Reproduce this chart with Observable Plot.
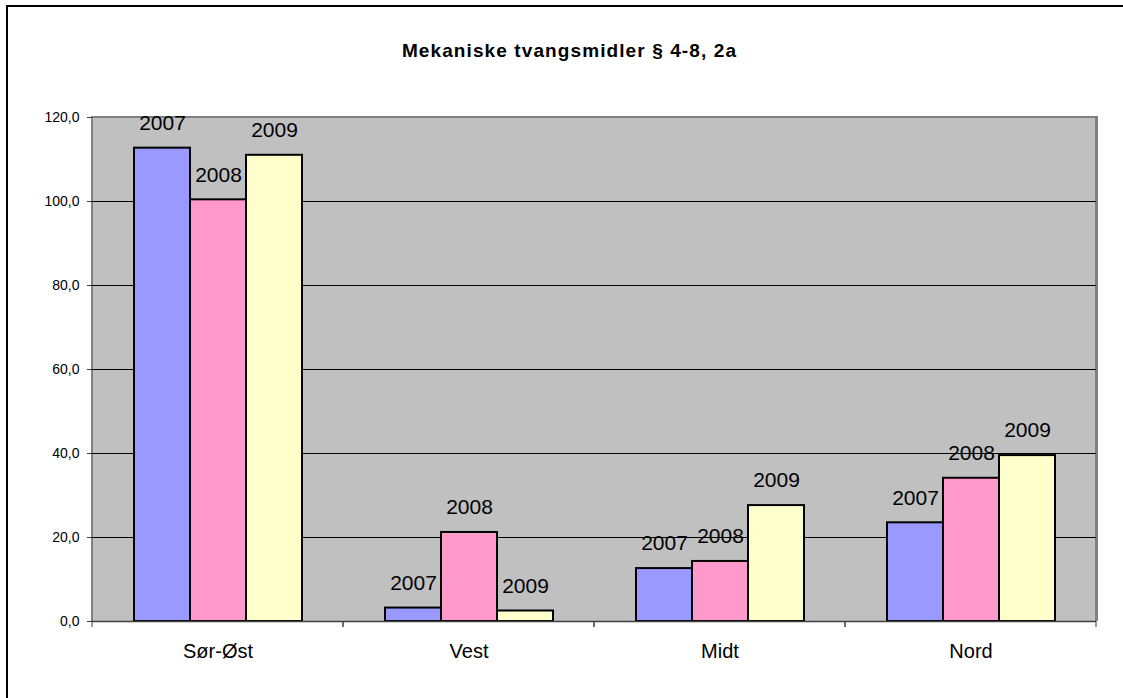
<!DOCTYPE html>
<html>
<head>
<meta charset="utf-8">
<script src="https://cdn.jsdelivr.net/npm/d3@7"></script>
<script src="https://cdn.jsdelivr.net/npm/@observablehq/plot@0.6"></script>
<style>
  html, body { margin: 0; padding: 0; background: #fff; overflow: hidden; }
  #wrap { position: relative; width: 1123px; height: 698px; overflow: hidden; font-family: "Liberation Sans", Arial, sans-serif; }
  #border { position: absolute; left: 6px; top: 5px; width: 1300px; height: 900px; border-left: 2px solid #000; border-top: 2px solid #000; box-sizing: border-box; pointer-events: none; }
  #title { position: absolute; left: 8px; top: 40px; width: 1123px; text-align: center; font-weight: bold; font-size: 19px; letter-spacing: 1.1px; line-height: 22px; }
  #plotbg { position: absolute; background: #C0C0C0; box-sizing: border-box; border-top: 2px solid #808080; border-left: 2px solid #808080; border-right: 3px solid #808080; }
  #chart { position: absolute; left: 0; top: 100px; }
</style>
</head>
<body>
<div id="wrap">
  <div id="border"></div>
  <div id="title">Mekaniske tvangsmidler § 4-8, 2a</div>
  <div id="plotbg"></div>
  <div id="chart"></div>
</div>
<script>
const categories = ["Sør-Øst", "Vest", "Midt", "Nord"];
const years = ["2007", "2008", "2009"];
const v2007 = [112.7, 3.2, 12.6, 23.5];
const v2008 = [100.4, 21.2, 14.3, 34.1];
const v2009 = [111.0, 2.5, 27.6, 39.5];
const yTicks = [0, 20, 40, 60, 80, 100, 120];
const colors = ["#9999FF", "#FF99CC", "#FFFFCC"];

const series = [v2007, v2008, v2009];
const rows = [];
categories.forEach((c, i) => years.forEach((y, j) => rows.push({cat: c, year: y, value: series[j][i]})));

const W = 1123, H = 598, top0 = 100, mt = 17, mb = 77, ml = 92, mr = 27;

// plot-area background, placed from the same margins
const bg = document.getElementById("plotbg");
Object.assign(bg.style, {left: (ml - 1) + "px", top: (top0 + mt - 1) + "px",
  width: (W - ml - mr + 3) + "px", height: (H - mt - mb + 1) + "px"});

// short category-boundary ticks below the axis (drawn in each facet at its edges)
const boundaryTicks = (index, scales, values, dim) => {
  const g = d3.create("svg:g").attr("stroke", "#404040").attr("stroke-width", 1);
  const yb = dim.height - dim.marginBottom;
  for (const x of [dim.marginLeft, dim.width - dim.marginRight]) {
    g.append("line").attr("x1", x).attr("x2", x).attr("y1", yb).attr("y2", yb + 6);
  }
  return g.node();
};

const plot = Plot.plot({
  width: W,
  height: H,
  marginTop: mt,
  marginBottom: mb,
  marginLeft: ml,
  marginRight: mr,
  style: {fontFamily: "'Liberation Sans', Arial, sans-serif", background: "transparent"},
  fx: {domain: categories, padding: 0, label: null},
  x: {domain: years, paddingInner: 0, paddingOuter: 0.74, axis: null},
  y: {domain: [0, 120], label: null},
  color: {domain: years, range: colors},
  marks: [
    Plot.ruleY(yTicks.filter(d => d > 0 && d < 120), {stroke: "#000", strokeWidth: 1}),
    Plot.barY(rows, {fx: "cat", x: "year", y: "value", fill: "year", stroke: "#000", strokeWidth: 2}),
    Plot.ruleY([0], {stroke: "#404040", strokeWidth: 1.5}),
    boundaryTicks,
    Plot.text(rows, {fx: "cat", x: "year", y: "value", text: "year", dy: -25, fontSize: 21, fill: "#000", lineAnchor: "middle"}),
    Plot.axisY({ticks: yTicks, tickSize: 5, tickPadding: 8, fontSize: 14, stroke: "#404040",
      tickFormat: d => d.toFixed(1).replace(".", ","), label: null}),
    Plot.axisFx({anchor: "bottom", tickSize: 0, tickPadding: 22, fontSize: 20, label: null})
  ]
});
document.getElementById("chart").appendChild(plot);
</script>
</body>
</html>
